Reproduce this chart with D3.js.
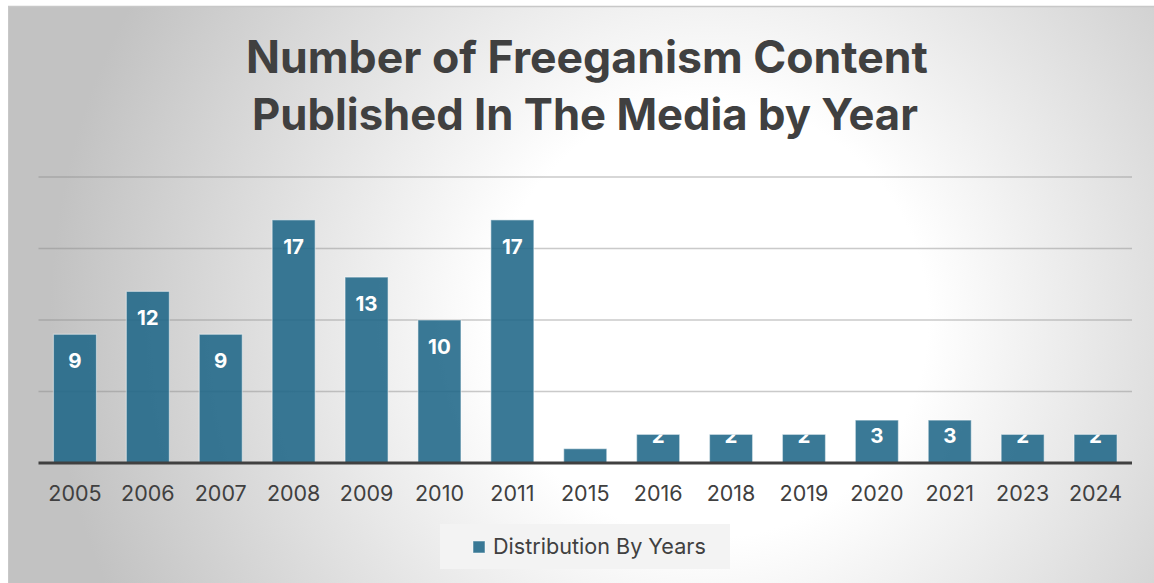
<!DOCTYPE html>
<html><head><meta charset="utf-8">
<script src="https://cdn.jsdelivr.net/npm/d3@7"></script>
<style>html,body{margin:0;padding:0;background:#fff;overflow:hidden}</style>
</head><body>
<svg id="c" width="1154" height="583"></svg>
<script>
const years = ["2005","2006","2007","2008","2009","2010","2011","2015","2016","2018","2019","2020","2021","2023","2024"];
const counts = [9,12,9,17,13,10,17,1,2,2,2,3,3,2,2];
const yTicks = [0,5,10,15,20];
const titleLines = ["Number of Freeganism Content","Published In The Media by Year"];
const seriesName = "Distribution By Years";

const W = 1154, H = 583;
const svg = d3.select("#c");
const defs = svg.append("defs");
const FONT = "Inter, 'Open Sans', sans-serif";
const TXT = "#404040";
const BAR = "#1f6787";

const rg = defs.append("radialGradient").attr("id","bg").attr("gradientUnits","userSpaceOnUse")
  .attr("cx",710).attr("cy",320).attr("r",660);
rg.append("stop").attr("offset",0).attr("stop-color","#ffffff");
rg.append("stop").attr("offset",0.33).attr("stop-color","#ffffff");
rg.append("stop").attr("offset",1).attr("stop-color","#c2c2c2");

svg.append("rect").attr("x",8).attr("y",6).attr("width",W).attr("height",H).attr("fill","url(#bg)");
svg.append("line").attr("x1",8).attr("x2",W).attr("y1",6.5).attr("y2",6.5).attr("stroke","#c8c8c8").attr("stroke-width",1.5);
svg.append("line").attr("x1",8.5).attr("x2",8.5).attr("y1",6).attr("y2",H).attr("stroke","#c8c8c8").attr("stroke-width",1);

// title
const titleTargets = [{cx:587, base:72.5, w:682},{cx:585, base:130, w:666}];
titleLines.forEach((t,i)=>{
  const el = svg.append("text").attr("x",titleTargets[i].cx).attr("y",titleTargets[i].base)
    .attr("text-anchor","middle").attr("font-family",FONT).attr("font-weight",700)
    .attr("font-size",40).attr("fill",TXT).text(t);
  const len = el.node().getComputedTextLength();
  el.attr("font-size", 40*titleTargets[i].w/len);
});

const x = d3.scaleBand().domain(years).range([38.5,1132]).paddingInner(0.41).paddingOuter(0.205);
const y = d3.scaleLinear().domain([0,20]).range([463,177]);

// gridlines
svg.append("g").selectAll("line").data(yTicks.filter(d=>d>0)).join("line")
  .attr("x1",38.5).attr("x2",1132).attr("y1",d=>y(d)).attr("y2",d=>y(d))
  .attr("stroke","#8a8a8a").attr("stroke-opacity",0.45).attr("stroke-width",1.5);

// bars
const g = svg.append("g");
years.forEach((yr,i)=>{
  defs.append("clipPath").attr("id","cp"+i).append("rect")
    .attr("x",x(yr)).attr("y",y(counts[i])).attr("width",x.bandwidth()).attr("height",y(0)-y(counts[i]));
});
g.selectAll("rect").data(years).join("rect")
  .attr("x",d=>x(d)).attr("y",(d,i)=>y(counts[i]))
  .attr("width",x.bandwidth()).attr("height",(d,i)=>y(0)-y(counts[i]))
  .attr("fill",BAR).attr("fill-opacity",0.88)
  .attr("stroke","#ffffff").attr("stroke-opacity",0.45).attr("stroke-width",1.2);

g.selectAll("text").data(years).join("text")
  .attr("clip-path",(d,i)=>"url(#cp"+i+")")
  .attr("x",d=>x(d)+x.bandwidth()/2)
  .attr("y",(d,i)=>Math.min(y(counts[i])+34, y(0)-20))
  .attr("text-anchor","middle").attr("font-family",FONT).attr("font-weight",700)
  .attr("font-size",20.5).attr("fill","#ffffff").text((d,i)=>counts[i]);

// axis
const ax = svg.append("g").attr("transform","translate(0,463)")
  .call(d3.axisBottom(x).tickSize(0).tickPadding(0));
ax.select(".domain").attr("stroke","#404040").attr("stroke-width",3).attr("d","M38.5,0H1132");
ax.selectAll("text").attr("font-family",FONT).attr("font-size",21.5).attr("fill",TXT)
  .attr("dy",null).attr("y",38);

// legend
const lg = svg.append("g");
lg.append("rect").attr("x",440).attr("y",524).attr("width",290).attr("height",45).attr("fill","#f3f3f3");
lg.append("rect").attr("x",473).attr("y",541).attr("width",12).attr("height",12)
  .attr("fill",BAR).attr("fill-opacity",0.88).attr("stroke","#ffffff").attr("stroke-opacity",0.5);
const lt = lg.append("text").attr("x",493).attr("y",553.5).attr("font-family",FONT).attr("font-size",20.5)
  .attr("fill",TXT).text(seriesName);
const ll = lt.node().getComputedTextLength();
lt.attr("font-size", 20.5*213/ll);
</script>
</body></html>
